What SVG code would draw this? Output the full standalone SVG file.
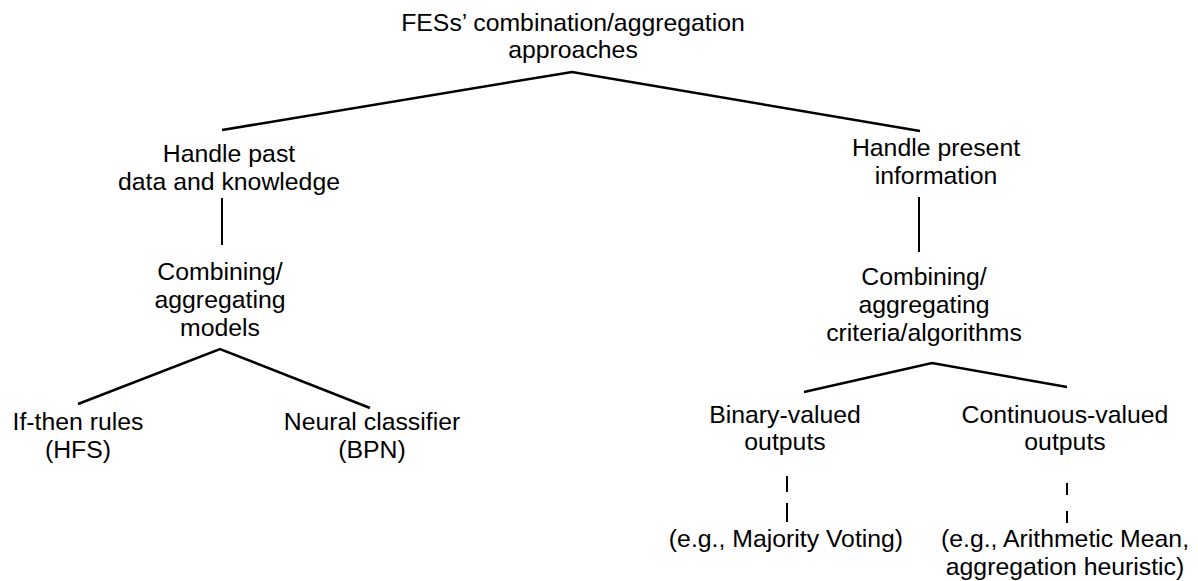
<svg xmlns="http://www.w3.org/2000/svg" width="1198" height="581" viewBox="0 0 1198 581">
<style>
text { font-family: "Liberation Sans", Arial, sans-serif; font-size: 24.8px; fill: #000; text-anchor: middle; }
.c { stroke: #000; stroke-width: 2.5; fill: none; }
.d { stroke: #000; stroke-width: 2; fill: none; }
</style>
<rect width="1198" height="581" fill="#fff"/>
<g id="connectors">
<polyline class="c" points="222,130 572,72 920,131"/>
<line class="d" x1="222" y1="198" x2="222" y2="245"/>
<line class="d" x1="919" y1="197" x2="919" y2="252"/>
<polyline class="c" points="78,404 220,349 370,408"/>
<polyline class="c" points="804,392 932,363 1067,387"/>
<line class="d" x1="787" y1="476" x2="787" y2="492"/>
<line class="d" x1="787" y1="503" x2="787" y2="522"/>
<line class="d" x1="1067" y1="483" x2="1067" y2="495"/>
<line class="d" x1="1067" y1="511" x2="1067" y2="523"/>
</g>
<g id="root"><text x="573" y="31">FESs’ combination/aggregation</text><text x="573" y="58">approaches</text></g>
<g id="past"><text x="229" y="162">Handle past</text><text x="229" y="190">data and knowledge</text></g>
<g id="models"><text x="220" y="280">Combining/</text><text x="220" y="308">aggregating</text><text x="220" y="336">models</text></g>
<g id="ifthen"><text x="78" y="430">If-then rules</text><text x="78" y="458">(HFS)</text></g>
<g id="neural"><text x="372" y="430">Neural classifier</text><text x="372" y="458">(BPN)</text></g>
<g id="present"><text x="936" y="156">Handle present</text><text x="936" y="184">information</text></g>
<g id="criteria"><text x="924" y="285">Combining/</text><text x="924" y="313">aggregating</text><text x="924" y="341">criteria/algorithms</text></g>
<g id="binary"><text x="785" y="423">Binary-valued</text><text x="785" y="450">outputs</text></g>
<g id="continuous"><text x="1065" y="423">Continuous-valued</text><text x="1065" y="450">outputs</text></g>
<g id="majority"><text x="786" y="547">(e.g., Majority Voting)</text></g>
<g id="mean"><text x="1065" y="547">(e.g., Arithmetic Mean,</text><text x="1065" y="575">aggregation heuristic)</text></g>
</svg>
